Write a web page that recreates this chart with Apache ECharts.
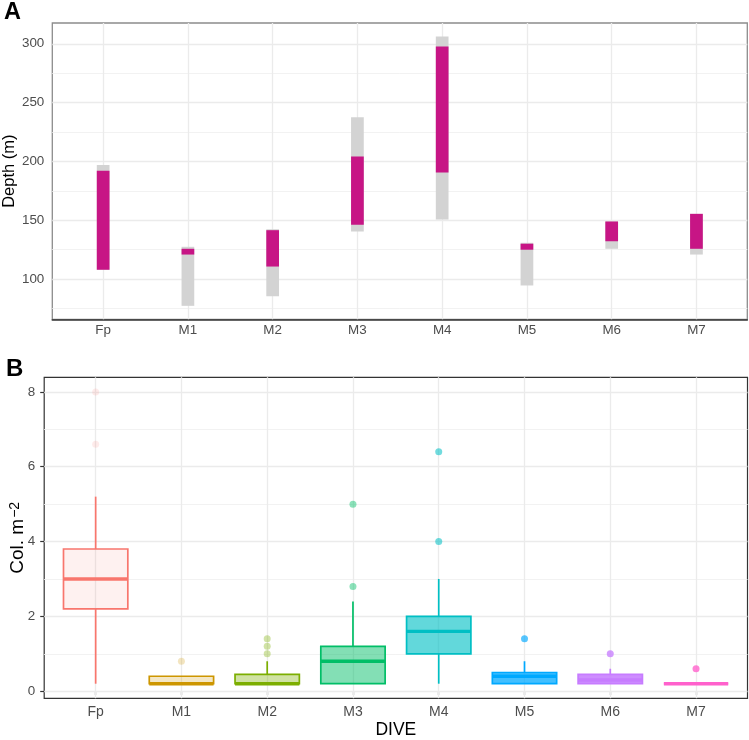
<!DOCTYPE html>
<html><head><meta charset="utf-8">
<script src="https://cdn.jsdelivr.net/npm/echarts@6/dist/echarts.min.js"></script>
<style>html,body{margin:0;padding:0;background:#fff}#c{width:749px;height:740px}</style>
</head><body><div id="c"></div>
<script>
// ---------- data ----------
const dives = ['Fp','M1','M2','M3','M4','M5','M6','M7'];
// Panel A: depth ranges (m)
const greyTop    = [197.0, 127.4, 142.3, 237.6, 306.2, 130.8, 149.0, 155.4];
const greyBottom = [107.8,  77.2,  85.4, 140.4, 150.6,  94.5, 125.7, 120.8];
const pinkTop    = [192.0, 125.7, 141.5, 204.2, 297.7, 130.0, 148.9, 155.4];
const pinkBottom = [107.8, 120.8, 110.6, 146.1, 190.6, 124.9, 132.1, 125.7];
const depthTicks = [100, 150, 200, 250, 300];
const depthMinor = [75, 125, 175, 225, 275];
// Panel B: boxplot stats (Col. m^-2)
const lowerWhisker = [0.2, 0.2, 0.2, 0.2, 0.2, 0.2, 0.2, 0.2];
const q1           = [2.2, 0.2, 0.2, 0.2, 1.0, 0.2, 0.2, 0.2];
const median       = [3.0, 0.2, 0.2, 0.8, 1.6, 0.4, 0.3, 0.2];
const q3           = [3.8, 0.4, 0.45, 1.2, 2.0, 0.5, 0.45, 0.2];
const upperWhisker = [5.2, 0.4, 0.8, 2.4, 3.0, 0.8, 0.6, 0.2];
const outlierDive  = [0, 0, 1, 2, 2, 2, 3, 3, 4, 4, 5, 6, 7];
const outlierValue = [6.6, 8.0, 0.8, 1.0, 1.2, 1.4, 2.8, 5.0, 4.0, 6.4, 1.4, 1.0, 0.6];
const colTicks = [0, 2, 4, 6, 8];
const colMinor = [1, 3, 5, 7];
const diveColors = ['#F8766D','#CD9600','#7CAE00','#00BE67','#00BFC4','#00A9FF','#C77CFF','#FF61CC'];
const diveAlpha  = [0.1, 0.229, 0.357, 0.486, 0.614, 0.743, 0.871, 1.0];

// ---------- helpers ----------
function rgba(hex, a){
  const n = parseInt(hex.slice(1),16);
  return 'rgba(' + ((n>>16)&255) + ',' + ((n>>8)&255) + ',' + (n&255) + ',' + a + ')';
}
function expand(lo, hi){ const p = (hi-lo)*0.05; return [lo-p, hi+p]; }
const aRange = expand(Math.min(...greyBottom, ...pinkBottom), Math.max(...greyTop, ...pinkTop));
const bRange = expand(Math.min(...lowerWhisker, ...outlierValue), Math.max(...upperWhisker, ...outlierValue));

// layout (ggplot discrete expansion: 0.6 units each side)
function panel(left, right, top, bottom){
  const W = right-left, band = W/8.2;
  return {
    outer:{left:left, top:top, width:W, height:bottom-top},
    inner:{left:left+0.1*band, top:top, width:8*band, height:bottom-top}
  };
}
const PA = panel(52.3, 747.3, 23, 319.3);
const PB = panel(44.2, 747.5, 377.3, 698.3);

const FONT = 'Liberation Sans, Arial, sans-serif';
const tickCol = '#4D4D4D';
const majorLine = {color:'#EBEBEB', width:1.3, type:'solid'};
const minorLine = {color:'#F2F2F2', width:1, type:'solid'};

function hLines(major, minor){
  return major.map(v=>({yAxis:v, lineStyle:majorLine})).concat(minor.map(v=>({yAxis:v, lineStyle:minorLine})));
}
function vLines(){ return dives.map(d=>({xAxis:d, lineStyle:majorLine})); }
const mlBase = {symbol:['none','none'], silent:true, animation:false, label:{show:false}, emphasis:{disabled:true}};

function rangeRender(color){
  return function(params, api){
    const i = api.value(0);
    const t = api.coord([i, api.value(1)]);
    const b = api.coord([i, api.value(2)]);
    const bw = api.size([1,0])[0]*0.15;
    return {type:'rect', shape:{x:t[0]-bw/2, y:t[1], width:bw, height:b[1]-t[1]}, style:{fill:color}};
  };
}
const gridBase = {outerBoundsMode:'none', containLabel:false};

const option = {
  animation:false,
  textStyle:{fontFamily:FONT},
  title:[
    {text:'A', left:4, top:1, padding:0, textStyle:{fontSize:23.5, fontWeight:'bold', color:'#000', fontFamily:FONT}},
    {text:'B', left:6, top:357, padding:0, textStyle:{fontSize:24, fontWeight:'bold', color:'#000', fontFamily:FONT}}
  ],
  grid:[
    Object.assign({show:true, borderColor:'#8C8C8C', borderWidth:1.3, backgroundColor:'transparent'}, gridBase, PA.outer),
    Object.assign({show:false}, gridBase, PA.inner),
    Object.assign({show:true, borderColor:'#333333', borderWidth:1.2, backgroundColor:'transparent'}, gridBase, PB.outer),
    Object.assign({show:false}, gridBase, PB.inner)
  ],
  xAxis:[
    {gridIndex:0, type:'value', min:0, max:1, axisLabel:{show:false}, axisTick:{show:false}, splitLine:{show:false},
     axisLine:{show:true, lineStyle:{color:'#333333', width:1.6}}},
    {gridIndex:1, type:'category', data:dives, boundaryGap:true, axisLine:{show:false}, axisTick:{show:false}, splitLine:{show:false},
     axisLabel:{margin:5, fontSize:13.4, color:tickCol}},
    {gridIndex:2, type:'value', min:0, max:1, show:false},
    {gridIndex:3, type:'category', data:dives, boundaryGap:true, axisLine:{show:false}, splitLine:{show:false},
     axisTick:{show:true, alignWithLabel:true, length:4, lineStyle:{color:'#333333', width:1.2}},
     axisLabel:{margin:7, fontSize:14, color:tickCol},
     name:'DIVE', nameLocation:'middle', nameGap:23, nameMoveOverlap:false, nameTextStyle:{fontSize:17.5, color:'#000'}}
  ],
  yAxis:[
    {gridIndex:0, type:'value', min:aRange[0], max:aRange[1], axisLine:{show:false}, axisTick:{show:false}, splitLine:{show:false},
     axisLabel:{customValues:depthTicks, margin:8, fontSize:13.4, color:tickCol,
       formatter:v=> depthTicks.includes(v) ? String(v) : ''},
     name:'Depth (m)', nameLocation:'middle', nameGap:34.5, nameRotate:90, nameMoveOverlap:false,
     nameTextStyle:{fontSize:16.5, color:'#000'}},
    {gridIndex:1, type:'value', min:aRange[0], max:aRange[1], show:false},
    {gridIndex:2, type:'value', min:bRange[0], max:bRange[1], axisLine:{show:false}, splitLine:{show:false},
     axisTick:{show:true, customValues:colTicks, length:4, lineStyle:{color:'#333333', width:1.2}},
     axisLabel:{customValues:colTicks, margin:9, fontSize:13.4, color:tickCol,
       formatter:v=> colTicks.includes(v) ? String(v) : ''},
     name:'Col. m{sup|\u22122}', nameLocation:'middle', nameGap:17, nameRotate:90, nameMoveOverlap:false,
     nameTextStyle:{fontSize:19, color:'#000', rich:{sup:{fontSize:14, color:'#000', verticalAlign:'top', lineHeight:13, padding:[0,0,0,1]}}}},
    {gridIndex:3, type:'value', min:bRange[0], max:bRange[1], show:false}
  ],
  series:[
    // grid lines
    {type:'scatter', xAxisIndex:0, yAxisIndex:0, data:[], z:1, silent:true,
     markLine:Object.assign({data:hLines(depthTicks, depthMinor)}, mlBase)},
    {type:'scatter', xAxisIndex:1, yAxisIndex:1, data:[], z:1, silent:true,
     markLine:Object.assign({data:vLines()}, mlBase)},
    {type:'scatter', xAxisIndex:2, yAxisIndex:2, data:[], z:1, silent:true,
     markLine:Object.assign({data:hLines(colTicks, colMinor)}, mlBase)},
    {type:'scatter', xAxisIndex:3, yAxisIndex:3, data:[], z:1, silent:true,
     markLine:Object.assign({data:vLines()}, mlBase)},
    // panel A ranges
    {type:'custom', name:'range', xAxisIndex:1, yAxisIndex:1, z:10, silent:true,
     data:dives.map((d,i)=>[i, greyTop[i], greyBottom[i]]), encode:{x:0, y:[1,2]},
     renderItem:rangeRender('#D3D3D3')},
    {type:'custom', name:'observed', xAxisIndex:1, yAxisIndex:1, z:11, silent:true,
     data:dives.map((d,i)=>[i, pinkTop[i], pinkBottom[i]]), encode:{x:0, y:[1,2]},
     renderItem:rangeRender('#C71585')},
    // panel B boxplots
    {type:'custom', name:'box', xAxisIndex:3, yAxisIndex:3, z:10, silent:true,
     data:dives.map((d,i)=>[i, lowerWhisker[i], q1[i], median[i], q3[i], upperWhisker[i]]),
     encode:{x:0, y:[1,2,3,4,5]},
     renderItem:function(params, api){
       const i = api.value(0);
       const lo = api.coord([i, api.value(1)]);
       const a = api.coord([i, api.value(2)]);
       const m = api.coord([i, api.value(3)]);
       const b = api.coord([i, api.value(4)]);
       const hi = api.coord([i, api.value(5)]);
       const bw = api.size([1,0])[0]*0.75;
       const x0 = m[0]-bw/2;
       const col = diveColors[i];
       return {type:'group', children:[
         {type:'line', shape:{x1:m[0], y1:b[1], x2:m[0], y2:hi[1]}, style:{stroke:col, lineWidth:1.7}},
         {type:'line', shape:{x1:m[0], y1:a[1], x2:m[0], y2:lo[1]}, style:{stroke:col, lineWidth:1.7}},
         {type:'rect', shape:{x:x0, y:b[1], width:bw, height:a[1]-b[1]}, style:{fill:rgba(col, diveAlpha[i]), stroke:col, lineWidth:1.7}},
         {type:'line', shape:{x1:x0, y1:m[1], x2:x0+bw, y2:m[1]}, style:{stroke:col, lineWidth:3.4}}
       ]};
     }},
    {type:'scatter', name:'outliers', xAxisIndex:3, yAxisIndex:3, z:12, silent:true, symbolSize:7,
     data:outlierValue.map((v,k)=>({value:[outlierDive[k], v],
       itemStyle:{color:rgba(diveColors[outlierDive[k]], Math.min(1, diveAlpha[outlierDive[k]] + 0.08))}}))}
  ]
};
const chart = echarts.init(document.getElementById('c'), null, {renderer:'canvas'});
chart.setOption(option);
</script>
</body></html>
